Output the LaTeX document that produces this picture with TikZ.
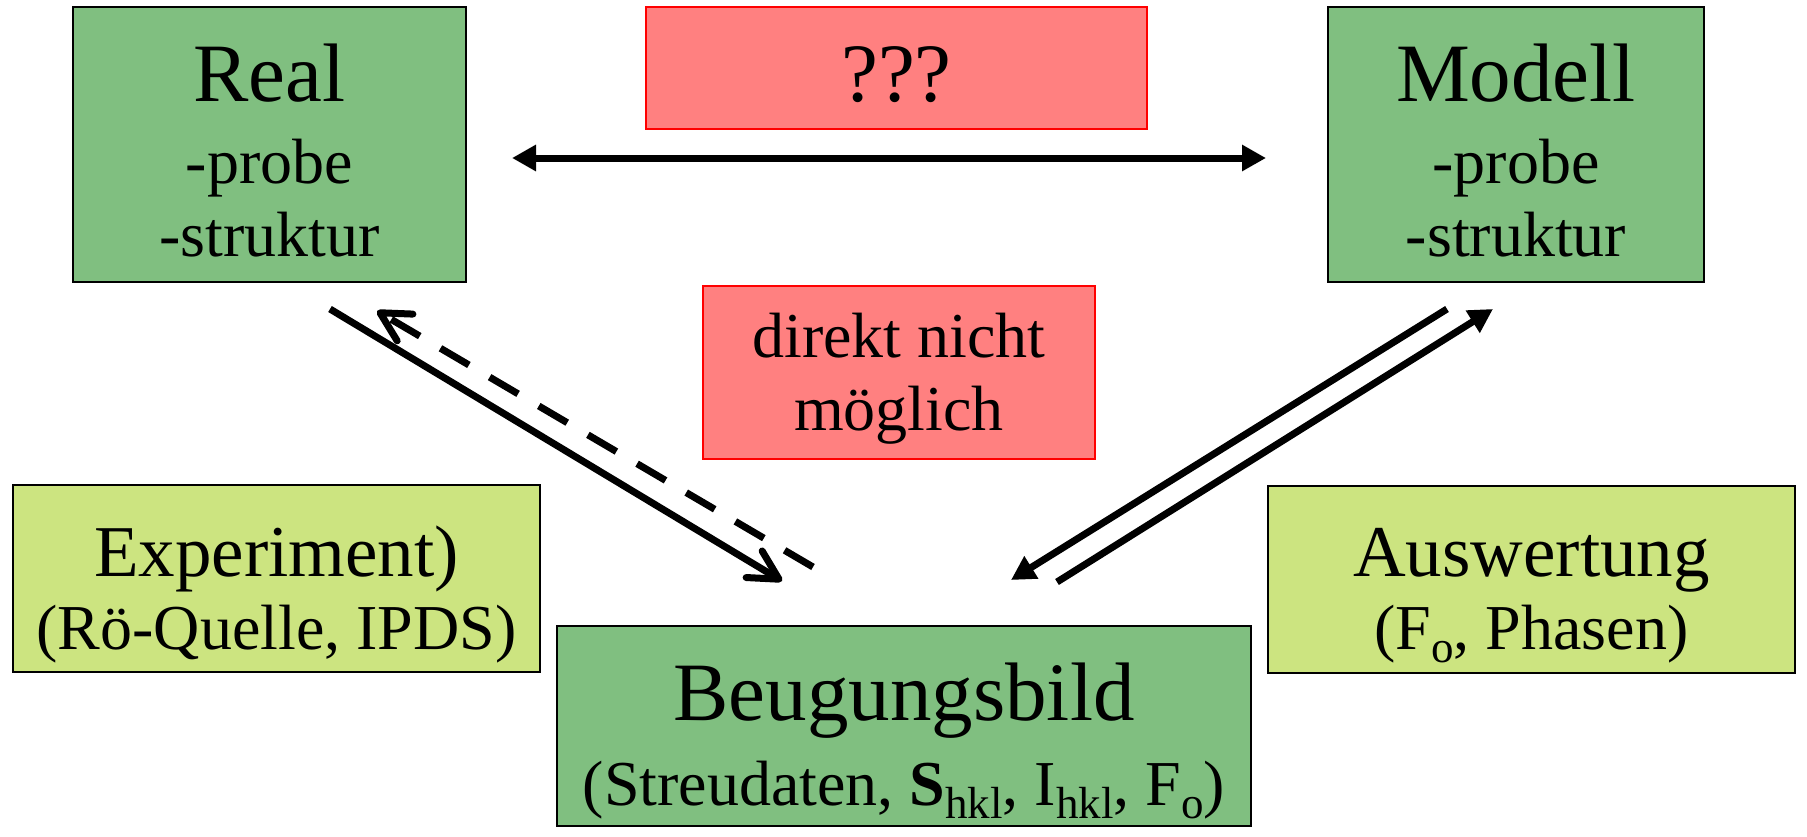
\documentclass[tikz,border=0pt]{standalone}
\usepackage{fontspec}
\setmainfont{Liberation Serif}
\usetikzlibrary{arrows.meta}
\definecolor{boxgreen}{HTML}{80BF80}
\definecolor{palegreen}{HTML}{CCE480}
\definecolor{warnred}{HTML}{FF8080}
\newcommand{\lowtxt}[1]{\raisebox{-13pt}{\fontsize{45}{45}\selectfont #1}}
\begin{document}
\begin{tikzpicture}[x=1pt,y=-1pt,
  panel/.style={draw=black, line width=2pt, inner sep=0pt, outer sep=0pt, anchor=north west},
  greenbox/.style={panel, fill=boxgreen},
  palebox/.style={panel, fill=palegreen},
  redbox/.style={panel, draw=red, fill=warnred},
  bigtxt/.style={anchor=base, inner sep=0pt, font=\fontsize{83}{83}\selectfont},
  midtxt/.style={anchor=base, inner sep=0pt, font=\fontsize{73}{73}\selectfont},
  smalltxt/.style={anchor=base, inner sep=0pt, font=\fontsize{64}{64}\selectfont},
  link/.style={line width=7pt},
  filledhead/.style={-{Triangle[length=24pt,width=25pt]}},
  barbhead/.style={-{Straight Barb[length=29pt,width=31pt,round]}}
]
\useasboundingbox (0,0) rectangle (1807,836);

% boxes
\node[greenbox, minimum width=393pt, minimum height=275pt] (real) at (73,7) {};
\node[greenbox, minimum width=376pt, minimum height=275pt] (modell) at (1328,7) {};
\node[redbox, minimum width=501pt, minimum height=122pt] (unknown) at (646,7) {};
\node[redbox, minimum width=392pt, minimum height=173pt] (direkt) at (703,286) {};
\node[palebox, minimum width=527pt, minimum height=187pt] (exp) at (13,485) {};
\node[palebox, minimum width=527pt, minimum height=187pt] (ausw) at (1268,486) {};
\node[greenbox, minimum width=694pt, minimum height=200pt] (beug) at (557,626) {};

% texts
\node[bigtxt] (realT) at (269.5,101) {Real};
\node[smalltxt] (realP) at (269.5,183) {-probe};
\node[smalltxt] (realS) at (269.5,256) {-struktur};

\node[bigtxt] (modT) at (1516,101) {Modell};
\node[smalltxt] (modP) at (1516,183) {-probe};
\node[smalltxt] (modS) at (1516,256) {-struktur};

\node[bigtxt] (unkT) at (896.5,101) {???};

\node[smalltxt] (dirA) at (899,357) {direkt nicht};
\node[smalltxt] (dirB) at (899,430) {möglich};

\node[midtxt] (expA) at (276.5,576) {Experiment)};
\node[smalltxt] (expB) at (276.5,649) {(Rö-Quelle, IPDS)};

\node[midtxt] (auswA) at (1531.5,576) {Auswertung};
\node[smalltxt] (auswB) at (1531.5,649) {(F\lowtxt{o}, Phasen)};

\node[bigtxt] (beugA) at (904,720) {Beugungsbild};
\node[smalltxt] (beugB) at (904,805) {(Streudaten, \textbf{S}\lowtxt{hkl}, I\lowtxt{hkl}, F\lowtxt{o})};

% connector end points
\coordinate (hL) at (512,158);
\coordinate (hR) at (1266,158);
\coordinate (expFrom) at (330,309);
\coordinate (expTo) at (782,581);
\coordinate (backFrom) at (813,567);
\coordinate (backTo) at (377,311);
\coordinate (modFrom) at (1447,309);
\coordinate (modTo) at (1011,580);
\coordinate (auswFrom) at (1057,582);
\coordinate (auswTo) at (1493,309);

% connectors
\draw[link, {Triangle[length=24pt,width=25pt]}-{Triangle[length=24pt,width=25pt]}] (hL) -- (hR);
\draw[link, barbhead] (expFrom) -- (expTo);
\draw[link, barbhead, dash pattern=on 33pt off 24pt] (backFrom) -- (backTo);
\draw[link, filledhead] (modFrom) -- (modTo);
\draw[link, filledhead] (auswFrom) -- (auswTo);
\end{tikzpicture}
\end{document}
